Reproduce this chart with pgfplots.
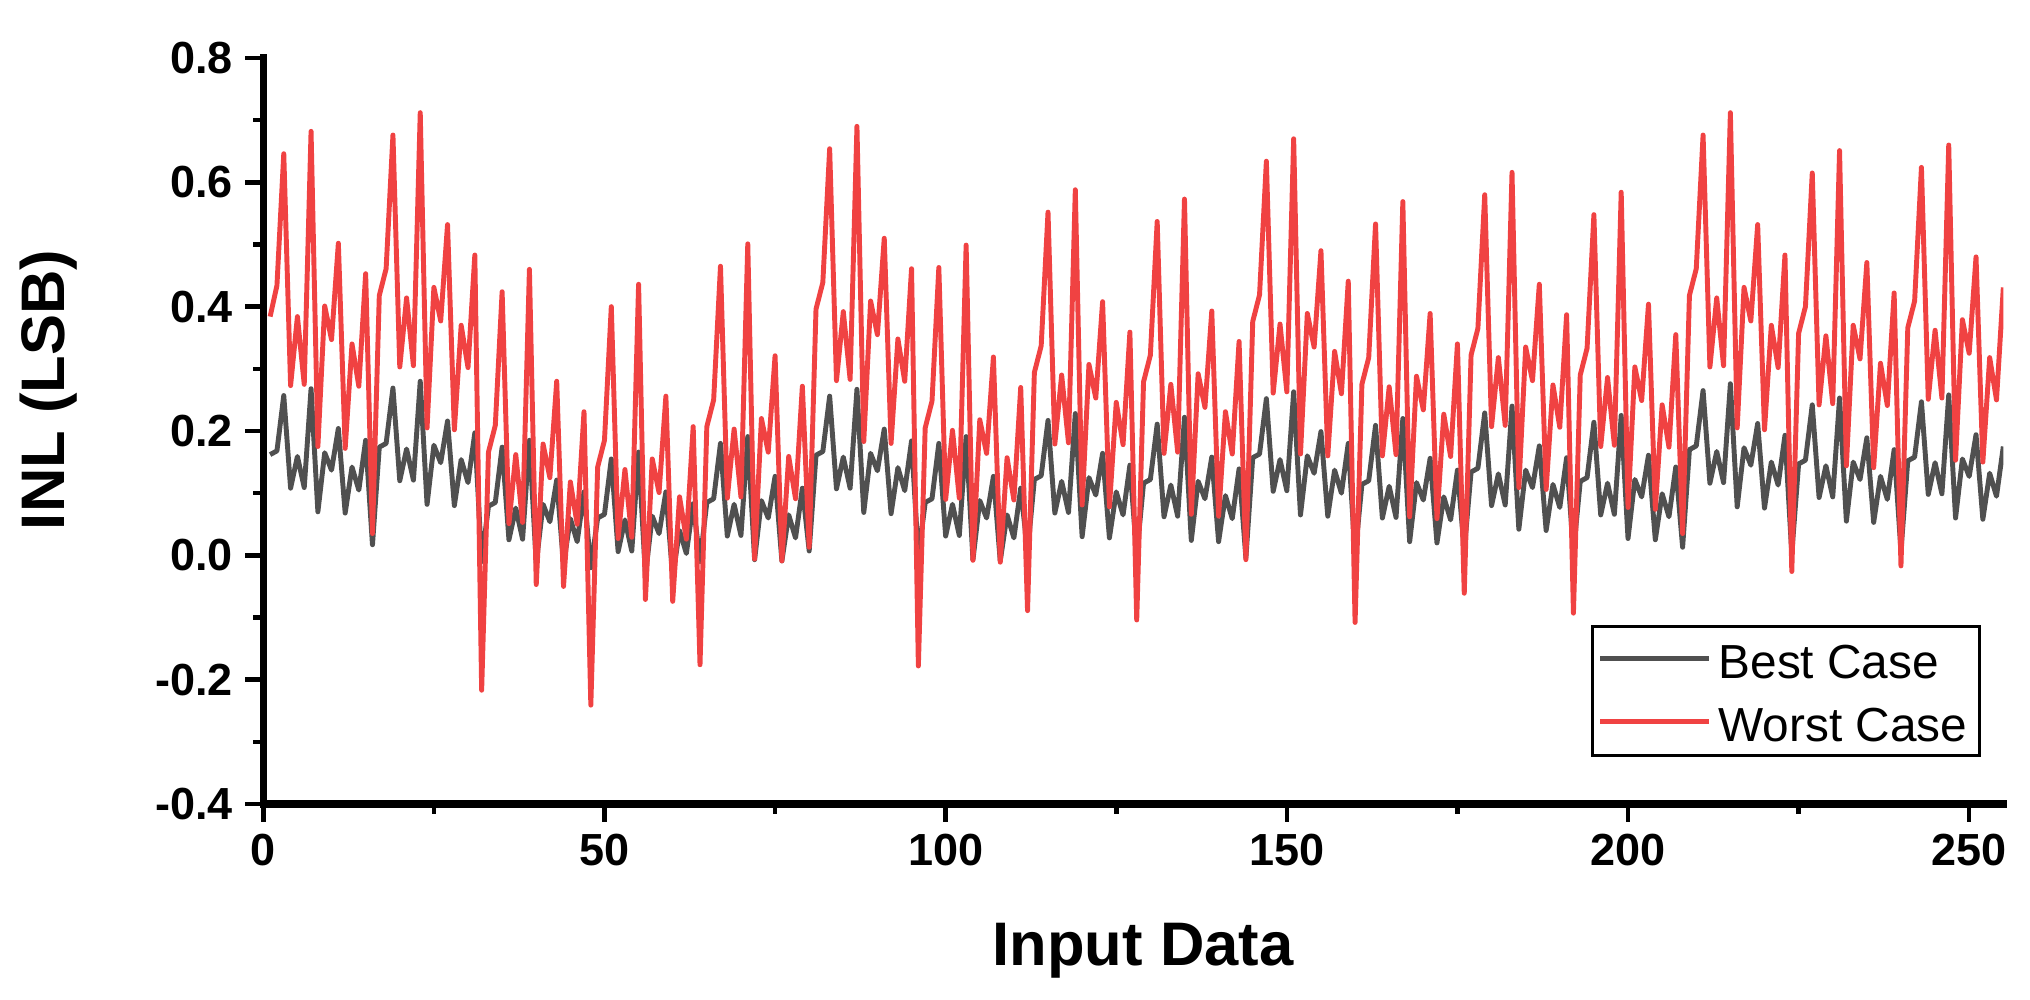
\documentclass[border=0pt]{standalone}
\usepackage{fontspec}
\setmainfont{Liberation Sans}
\usepackage{pgfplots}
\usepackage{pgfplotstable}
\pgfplotsset{compat=1.18}
\definecolor{worstred}{RGB}{240,66,66}
\definecolor{bestgray}{RGB}{80,80,80}

\pgfplotstableread{
x best worst
1 0.162 0.384
2 0.168 0.434
3 0.257 0.646
4 0.108 0.273
5 0.159 0.384
6 0.109 0.275
7 0.268 0.682
8 0.070 0.175
9 0.165 0.401
10 0.137 0.347
11 0.204 0.502
12 0.068 0.172
13 0.142 0.340
14 0.105 0.272
15 0.185 0.453
16 0.017 0.035
17 0.174 0.418
18 0.180 0.461
19 0.269 0.676
20 0.120 0.303
21 0.171 0.414
22 0.121 0.305
23 0.280 0.712
24 0.082 0.205
25 0.177 0.431
26 0.149 0.377
27 0.216 0.532
28 0.080 0.202
29 0.154 0.370
30 0.117 0.302
31 0.197 0.483
32 -0.010 -0.217
33 0.079 0.166
34 0.085 0.209
35 0.174 0.424
36 0.025 0.051
37 0.076 0.162
38 0.026 0.053
39 0.185 0.460
40 -0.013 -0.047
41 0.082 0.179
42 0.054 0.125
43 0.121 0.280
44 -0.015 -0.050
45 0.059 0.118
46 0.022 0.050
47 0.102 0.231
48 -0.020 -0.241
49 0.060 0.142
50 0.066 0.185
51 0.155 0.400
52 0.006 0.027
53 0.057 0.138
54 0.007 0.029
55 0.166 0.436
56 -0.032 -0.071
57 0.063 0.155
58 0.035 0.101
59 0.102 0.256
60 -0.034 -0.074
61 0.040 0.094
62 0.003 0.026
63 0.083 0.207
64 -0.010 -0.176
65 0.085 0.207
66 0.091 0.250
67 0.180 0.465
68 0.031 0.092
69 0.082 0.203
70 0.032 0.094
71 0.191 0.501
72 -0.007 -0.006
73 0.088 0.220
74 0.060 0.166
75 0.127 0.321
76 -0.009 -0.009
77 0.065 0.159
78 0.028 0.091
79 0.108 0.272
80 0.007 0.013
81 0.161 0.396
82 0.167 0.439
83 0.256 0.654
84 0.107 0.281
85 0.158 0.392
86 0.108 0.283
87 0.267 0.690
88 0.069 0.183
89 0.164 0.409
90 0.136 0.355
91 0.203 0.510
92 0.067 0.180
93 0.141 0.348
94 0.104 0.280
95 0.184 0.461
96 -0.003 -0.178
97 0.085 0.205
98 0.091 0.248
99 0.180 0.463
100 0.031 0.090
101 0.082 0.201
102 0.032 0.092
103 0.191 0.499
104 -0.007 -0.008
105 0.088 0.218
106 0.060 0.164
107 0.127 0.319
108 -0.009 -0.011
109 0.065 0.157
110 0.028 0.089
111 0.108 0.270
112 0.005 -0.089
113 0.122 0.294
114 0.128 0.337
115 0.217 0.552
116 0.068 0.179
117 0.119 0.290
118 0.069 0.181
119 0.228 0.588
120 0.030 0.081
121 0.125 0.307
122 0.097 0.253
123 0.164 0.408
124 0.028 0.078
125 0.102 0.246
126 0.065 0.178
127 0.145 0.359
128 0.000 -0.104
129 0.116 0.279
130 0.122 0.322
131 0.211 0.537
132 0.062 0.164
133 0.113 0.275
134 0.063 0.166
135 0.222 0.573
136 0.024 0.066
137 0.119 0.292
138 0.091 0.238
139 0.158 0.393
140 0.022 0.063
141 0.096 0.231
142 0.059 0.163
143 0.139 0.344
144 -0.004 -0.007
145 0.157 0.376
146 0.163 0.419
147 0.252 0.634
148 0.103 0.261
149 0.154 0.372
150 0.104 0.263
151 0.263 0.670
152 0.065 0.163
153 0.160 0.389
154 0.132 0.335
155 0.199 0.490
156 0.063 0.160
157 0.137 0.328
158 0.100 0.260
159 0.180 0.441
160 0.000 -0.108
161 0.114 0.275
162 0.120 0.318
163 0.209 0.533
164 0.060 0.160
165 0.111 0.271
166 0.061 0.162
167 0.220 0.569
168 0.022 0.062
169 0.117 0.288
170 0.089 0.234
171 0.156 0.389
172 0.020 0.059
173 0.094 0.227
174 0.057 0.159
175 0.137 0.340
176 0.008 -0.061
177 0.134 0.322
178 0.140 0.365
179 0.229 0.580
180 0.080 0.207
181 0.131 0.318
182 0.081 0.209
183 0.240 0.616
184 0.042 0.109
185 0.137 0.335
186 0.109 0.281
187 0.176 0.436
188 0.040 0.106
189 0.114 0.274
190 0.077 0.206
191 0.157 0.387
192 0.005 -0.093
193 0.119 0.290
194 0.125 0.333
195 0.214 0.548
196 0.065 0.175
197 0.116 0.286
198 0.066 0.177
199 0.225 0.584
200 0.027 0.077
201 0.122 0.303
202 0.094 0.249
203 0.161 0.404
204 0.025 0.074
205 0.099 0.242
206 0.062 0.174
207 0.142 0.355
208 0.013 0.035
209 0.170 0.418
210 0.176 0.461
211 0.265 0.676
212 0.116 0.303
213 0.167 0.414
214 0.117 0.305
215 0.276 0.712
216 0.078 0.205
217 0.173 0.431
218 0.145 0.377
219 0.212 0.532
220 0.076 0.202
221 0.150 0.370
222 0.113 0.302
223 0.193 0.483
224 0.003 -0.026
225 0.147 0.357
226 0.153 0.400
227 0.242 0.615
228 0.093 0.242
229 0.144 0.353
230 0.094 0.244
231 0.253 0.651
232 0.055 0.144
233 0.150 0.370
234 0.122 0.316
235 0.189 0.471
236 0.053 0.141
237 0.127 0.309
238 0.090 0.241
239 0.170 0.422
240 0.007 -0.017
241 0.152 0.366
242 0.158 0.409
243 0.247 0.624
244 0.098 0.251
245 0.149 0.362
246 0.099 0.253
247 0.258 0.660
248 0.060 0.153
249 0.155 0.379
250 0.127 0.325
251 0.194 0.480
252 0.058 0.150
253 0.132 0.318
254 0.095 0.250
255 0.175 0.431
}\inldata

\begin{document}
\begin{tikzpicture}
\useasboundingbox (-26.33mm,-19.6mm) rectangle (176.67mm,80.4mm);
\begin{axis}[
  at={(0,0)}, anchor=south west,
  scale only axis,
  width=174.0mm, height=74.6mm,
  xmin=0, xmax=255, ymin=-0.4, ymax=0.8,
  axis x line*=bottom, axis y line*=left,
  axis line style={line width=2pt, -, line cap=rect},
  xtick={0,50,100,150,200,250},
  minor x tick num=1,
  ytick={-0.4,-0.2,0,0.2,0.4,0.6,0.8},
  yticklabels={-0.4,-0.2,0.0,0.2,0.4,0.6,0.8},
  minor y tick num=1,
  tick align=outside,
  major tick length=1.8mm,
  minor tick length=1.0mm,
  tick style={line width=1.3pt, black},
  /pgf/number format/assume math mode=true,
  ticklabel style={font=\bfseries\fontsize{12.8}{14}\selectfont},
  xlabel={Input Data},
  ylabel={INL (LSB)},
  label style={font=\bfseries\fontsize{17.5}{20}\selectfont},
  xlabel style={at={(axis description cs:0.5056,-0.197)}, anchor=center},
  ylabel style={at={(axis description cs:-0.1232,0.555)}, anchor=center},
  legend cell align=left,
  legend style={at={(axis description cs:0.987,0.063)}, anchor=south east,
    draw=black, line width=0.75pt,
    font=\fontsize{13.6}{16}\selectfont,
    inner xsep=0.5mm, inner ysep=0.9mm, row sep=1.5mm,
    nodes={inner xsep=0.7mm, inner ysep=0pt, text height=4.3mm, text depth=0.5mm}},
  legend image code/.code={\draw[#1, line width=1.4pt] (0mm,0.15mm) -- (10.9mm,0.15mm);},
]
\addplot[color=bestgray, line width=1.4pt, line join=round] table[x=x, y=best] {\inldata};
\addlegendentry{Best Case}
\addplot[color=worstred, line width=1.4pt, line join=round] table[x=x, y=worst] {\inldata};
\addlegendentry{Worst Case}
\end{axis}
\end{tikzpicture}
\end{document}
